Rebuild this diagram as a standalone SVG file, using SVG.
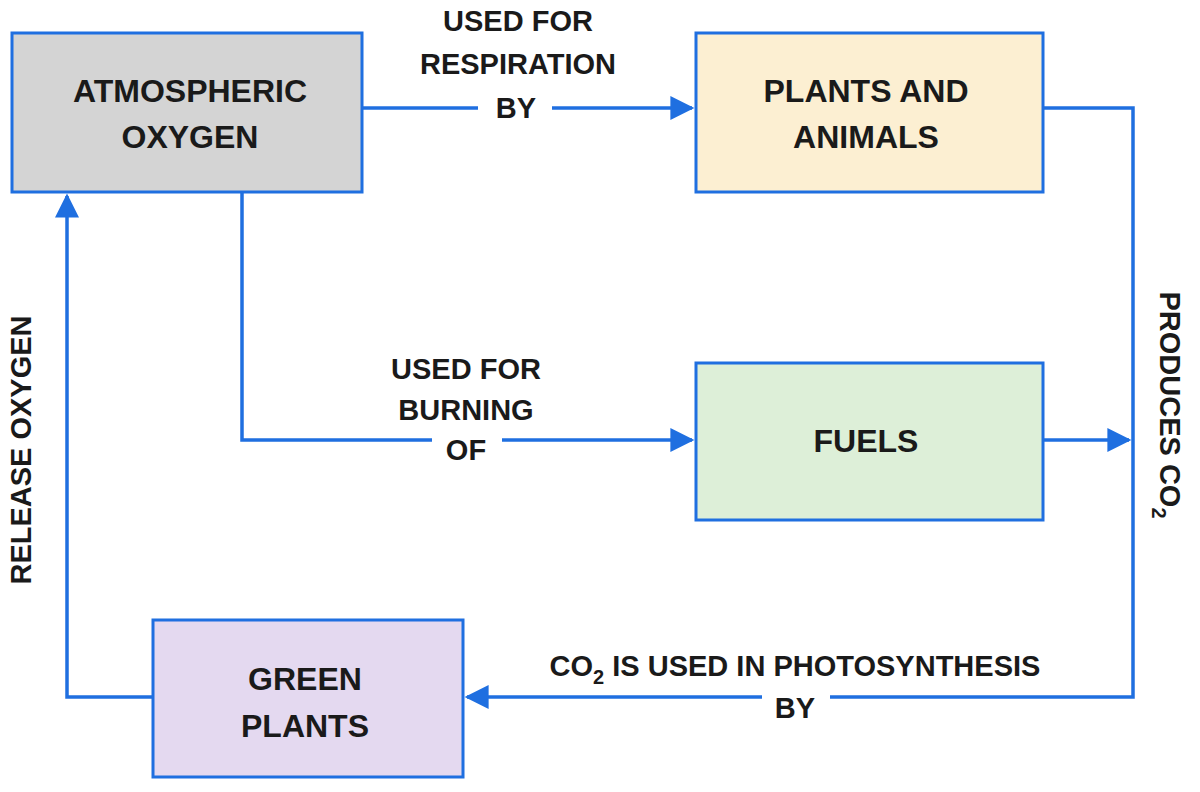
<svg xmlns="http://www.w3.org/2000/svg" width="1200" height="792" viewBox="0 0 1200 792">
<style>
.box{stroke:#1f6fe0;stroke-width:3}
.t{font-family:"Liberation Sans",Arial,sans-serif;font-weight:bold;font-size:32px;fill:#1a1a1a;text-anchor:middle}
.l{font-family:"Liberation Sans",Arial,sans-serif;font-weight:bold;font-size:29px;fill:#1a1a1a;text-anchor:middle}
.c{fill:none;stroke:#1f6fe0;stroke-width:3.5}
</style>
<defs><marker id="b" viewBox="0 0 10 10" refX="9" refY="5" markerWidth="26" markerHeight="24" markerUnits="userSpaceOnUse" orient="auto"><path d="M0,0L10,5L0,10z" fill="#1f6fe0"/></marker></defs>
<g id="atm"><rect class="box" x="12" y="33" width="350" height="159" fill="#d4d4d4"/><text class="t" x="190" y="102">ATMOSPHERIC</text><text class="t" x="190" y="148">OXYGEN</text></g>
<g id="pa"><rect class="box" x="696" y="33" width="347" height="159" fill="#fcefd2"/><text class="t" x="866" y="102">PLANTS AND</text><text class="t" x="866" y="148">ANIMALS</text></g>
<g id="fuels"><rect class="box" x="696" y="363" width="347" height="157" fill="#ddefd8"/><text class="t" x="866" y="452">FUELS</text></g>
<g id="gp"><rect class="box" x="153" y="620" width="310" height="157" fill="#e4d9f0"/><text class="t" x="305" y="690">GREEN</text><text class="t" x="305" y="737">PLANTS</text></g>
<g id="connectors">
<path class="c" d="M362,108H478"/><path class="c" d="M552,108H692" marker-end="url(#b)"/>
<path class="c" d="M242,192V440H432"/><path class="c" d="M502,440H692" marker-end="url(#b)"/>
<path class="c" d="M1043,108H1133V697H830"/><path class="c" d="M762,697H467" marker-end="url(#b)"/>
<path class="c" d="M1043,440H1129" marker-end="url(#b)"/>
<path class="c" d="M153,697H67V196" marker-end="url(#b)"/>
</g>
<g id="labels">
<text class="l" x="518" y="31">USED FOR</text><text class="l" x="518" y="74">RESPIRATION</text><text class="l" x="516" y="118">BY</text>
<text class="l" x="466" y="379">USED FOR</text><text class="l" x="466" y="420">BURNING</text><text class="l" x="466" y="460">OF</text>
<text class="l" x="795" y="676">CO<tspan font-size="20" dy="8">2</tspan><tspan dy="-8"> IS USED IN PHOTOSYNTHESIS</tspan></text><text class="l" x="795" y="718">BY</text>
<text class="l" transform="translate(31,450) rotate(-90)">RELEASE OXYGEN</text>
<text class="l" transform="translate(1160,405) rotate(90)">PRODUCES CO<tspan font-size="20" dy="8">2</tspan></text>
</g>
</svg>
